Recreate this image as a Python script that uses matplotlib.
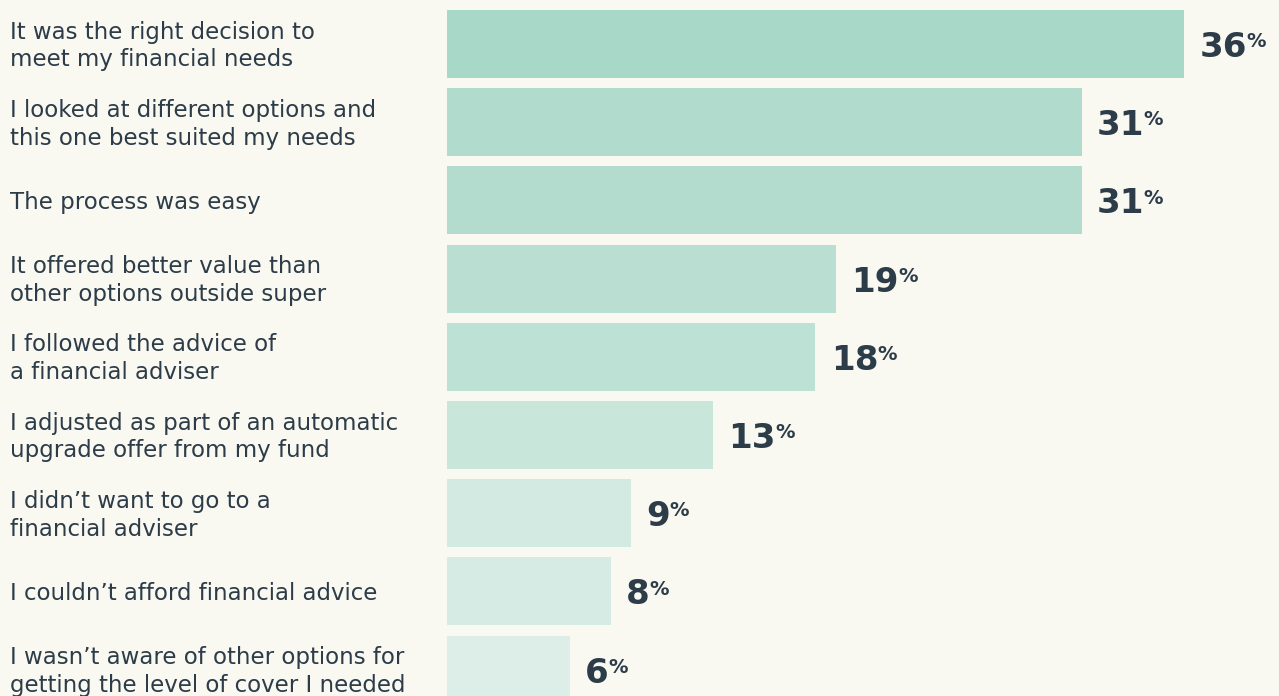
import matplotlib
matplotlib.use("Agg")
import matplotlib.pyplot as plt

W, H, DPI = 1279, 696, 100

labels = [
    "It was the right decision to\nmeet my financial needs",
    "I looked at different options and\nthis one best suited my needs",
    "The process was easy",
    "It offered better value than\nother options outside super",
    "I followed the advice of\na financial adviser",
    "I adjusted as part of an automatic\nupgrade offer from my fund",
    "I didn\u2019t want to go to a\nfinancial adviser",
    "I couldn\u2019t afford financial advice",
    "I wasn\u2019t aware of other options for\ngetting the level of cover I needed",
]
values = [36, 31, 31, 19, 18, 13, 9, 8, 6]
bar_colors = ["#a8d8c8", "#b1dccd", "#b3dccf", "#badfd2", "#bde1d4",
              "#c8e6da", "#d2eae2", "#d5ebe3", "#dceee7"]

BG = "#f9f8f1"
TXT = "#2c3c48"

fig = plt.figure(figsize=(W / DPI, H / DPI), dpi=DPI, facecolor=BG)
ax = fig.add_axes([447 / W, 0, 1 - 447 / W, 1])
ax.set_facecolor(BG)

pitch = 78.2
y = list(range(len(values)))
ax.barh(y, values, height=68 / pitch, color=bar_colors, left=0)
ax.set_xlim(0, (W - 447) / 20.47)
ax.set_ylim((H - 44) / pitch, -44 / pitch)
ax.axis("off")

NUM_FS, PCT_FS = 24.5, 14
BASE = -9.4  # baseline offset of the value below bar centre, in points
fig.canvas.draw()
r = fig.canvas.get_renderer()
for i, v in enumerate(values):
    t = ax.annotate(str(v), xy=(v, i), xytext=(11, BASE), textcoords="offset points",
                    ha="left", va="baseline", fontsize=NUM_FS, fontweight="bold",
                    color=TXT, family="DejaVu Sans")
    w_pt = t.get_window_extent(r).width * 72 / DPI
    # superscript percent sign, top aligned with the digits
    ax.annotate("%", xy=(v, i), xytext=(11 + w_pt - 0.5, BASE + 0.73 * (NUM_FS - PCT_FS) - 0.5),
                textcoords="offset points", ha="left", va="baseline",
                fontsize=PCT_FS, fontweight="bold", color=TXT, family="DejaVu Sans")

    # row label, vertically centred on the bar
    yc = 1 - (46 + pitch * i) / H
    fig.text(10 / W, yc, labels[i], ha="left", va="center", fontsize=16.5,
             color=TXT, family="DejaVu Sans", linespacing=1.27)

fig.savefig("out.png", dpi=DPI, facecolor=BG)
